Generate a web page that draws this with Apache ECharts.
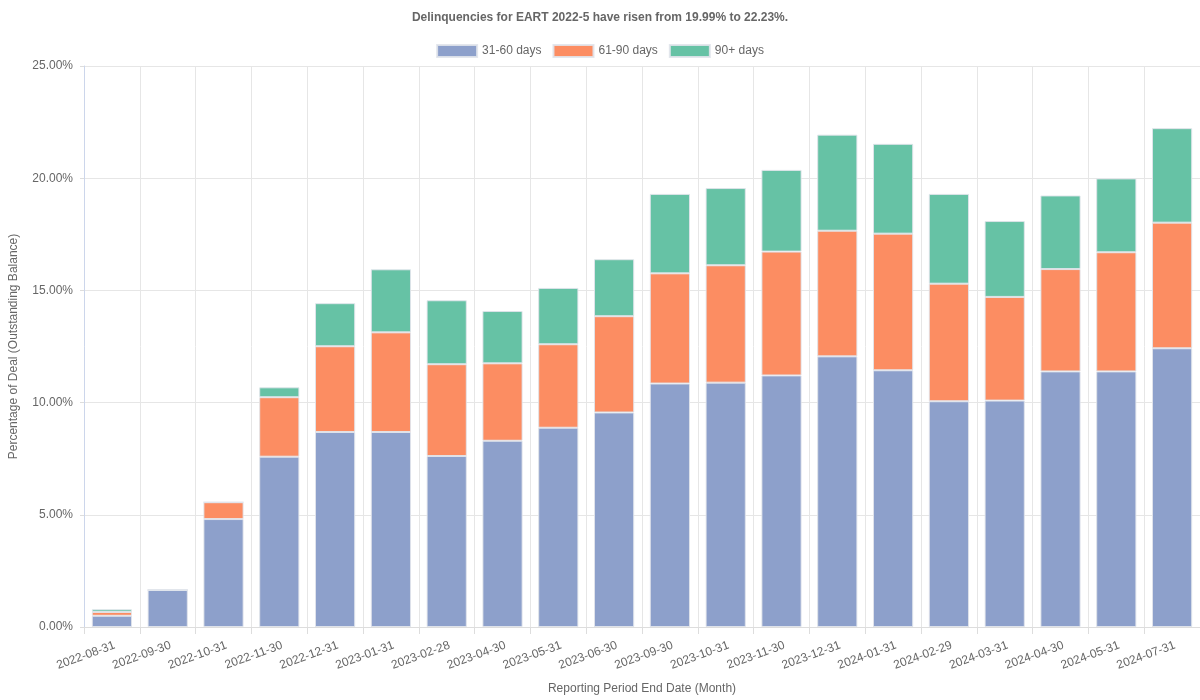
<!DOCTYPE html>
<html>
<head>
<meta charset="utf-8">
<script src="https://cdn.jsdelivr.net/npm/echarts@6/dist/echarts.min.js"></script>
<style>html,body{margin:0;padding:0;background:#fff}#c{width:1200px;height:700px}</style>
</head>
<body>
<div id="c"></div>
<script>
const categories = ['2022-08-31','2022-09-30','2022-10-31','2022-11-30','2022-12-31','2023-01-31','2023-02-28','2023-04-30','2023-05-31','2023-06-30','2023-09-30','2023-10-31','2023-11-30','2023-12-31','2024-01-31','2024-02-29','2024-03-31','2024-04-30','2024-05-31','2024-07-31'];
const d31_60 = [0.50,1.65,4.81,7.59,8.69,8.69,7.62,8.30,8.88,9.56,10.85,10.89,11.21,12.06,11.44,10.06,10.09,11.39,11.39,12.42];
const d61_90 = [0.17,0.00,0.75,2.65,3.82,4.44,4.09,3.45,3.72,4.29,4.91,5.23,5.52,5.60,6.09,5.24,4.62,4.56,5.31,5.60];
const d90p   = [0.12,0.00,0.00,0.44,1.92,2.81,2.85,2.33,2.51,2.54,3.54,3.44,3.64,4.28,4.00,4.00,3.38,3.28,3.29,4.21];
const seriesNames = ['31-60 days','61-90 days','90+ days'];
const colors = ['#8da0cb','#fc8d62','#66c2a5'];
const yTicks = {min:0, max:25, interval:5};

const font = 'Liberation Sans, Arial, sans-serif';
const chart = echarts.init(document.getElementById('c'));
const mk = (name, data, color) => ({
  name, type:'bar', stack:'total', data, barWidth:'72%',
  itemStyle:{color, borderColor:'rgba(225,228,235,0.9)', borderWidth:1},
  emphasis:{disabled:true}
});
chart.setOption({
  animation:false,
  textStyle:{fontFamily:font},
  title:{text:'Delinquencies for EART 2022-5 have risen from 19.99% to 22.23%.', left:'center', top:7,
    textStyle:{fontSize:12, fontWeight:'bold', color:'#666', fontFamily:font}},
  legend:{top:39, left:'center', itemWidth:40, itemHeight:12, itemGap:11, icon:'rect',
    textStyle:{fontSize:12, color:'#666', fontFamily:font}, data:seriesNames},
  grid:{left:84, right:0, top:66, bottom:73, containLabel:false, outerBoundsMode:'none'},
  xAxis:{type:'category', data:categories,
    name:'Reporting Period End Date (Month)', nameLocation:'middle', nameGap:56,
    nameTextStyle:{fontSize:12, color:'#666'},
    axisLine:{show:true, lineStyle:{color:'#ddd'}},
    axisTick:{show:true, length:7, lineStyle:{color:'#ddd'}},
    splitLine:{show:true, lineStyle:{color:'#e6e6e6'}},
    axisLabel:{rotate:20, fontSize:12, color:'#666', margin:19, padding:[0,-3,0,0]}},
  yAxis:{type:'value', min:yTicks.min, max:yTicks.max, interval:yTicks.interval,
    name:'Percentage of Deal (Outstanding Balance)', nameLocation:'middle', nameGap:64,
    nameTextStyle:{fontSize:12, color:'#666'},
    axisLine:{show:true, lineStyle:{color:'#ccd6eb'}},
    axisTick:{show:true, length:4, lineStyle:{color:'#ddd'}},
    splitLine:{show:true, lineStyle:{color:'#e6e6e6'}},
    axisLabel:{fontSize:12, color:'#666', margin:11, formatter:v=>v.toFixed(2)+'%'}},
  series:[mk(seriesNames[0], d31_60, colors[0]), mk(seriesNames[1], d61_90, colors[1]), mk(seriesNames[2], d90p, colors[2])]
});
</script>
</body>
</html>
